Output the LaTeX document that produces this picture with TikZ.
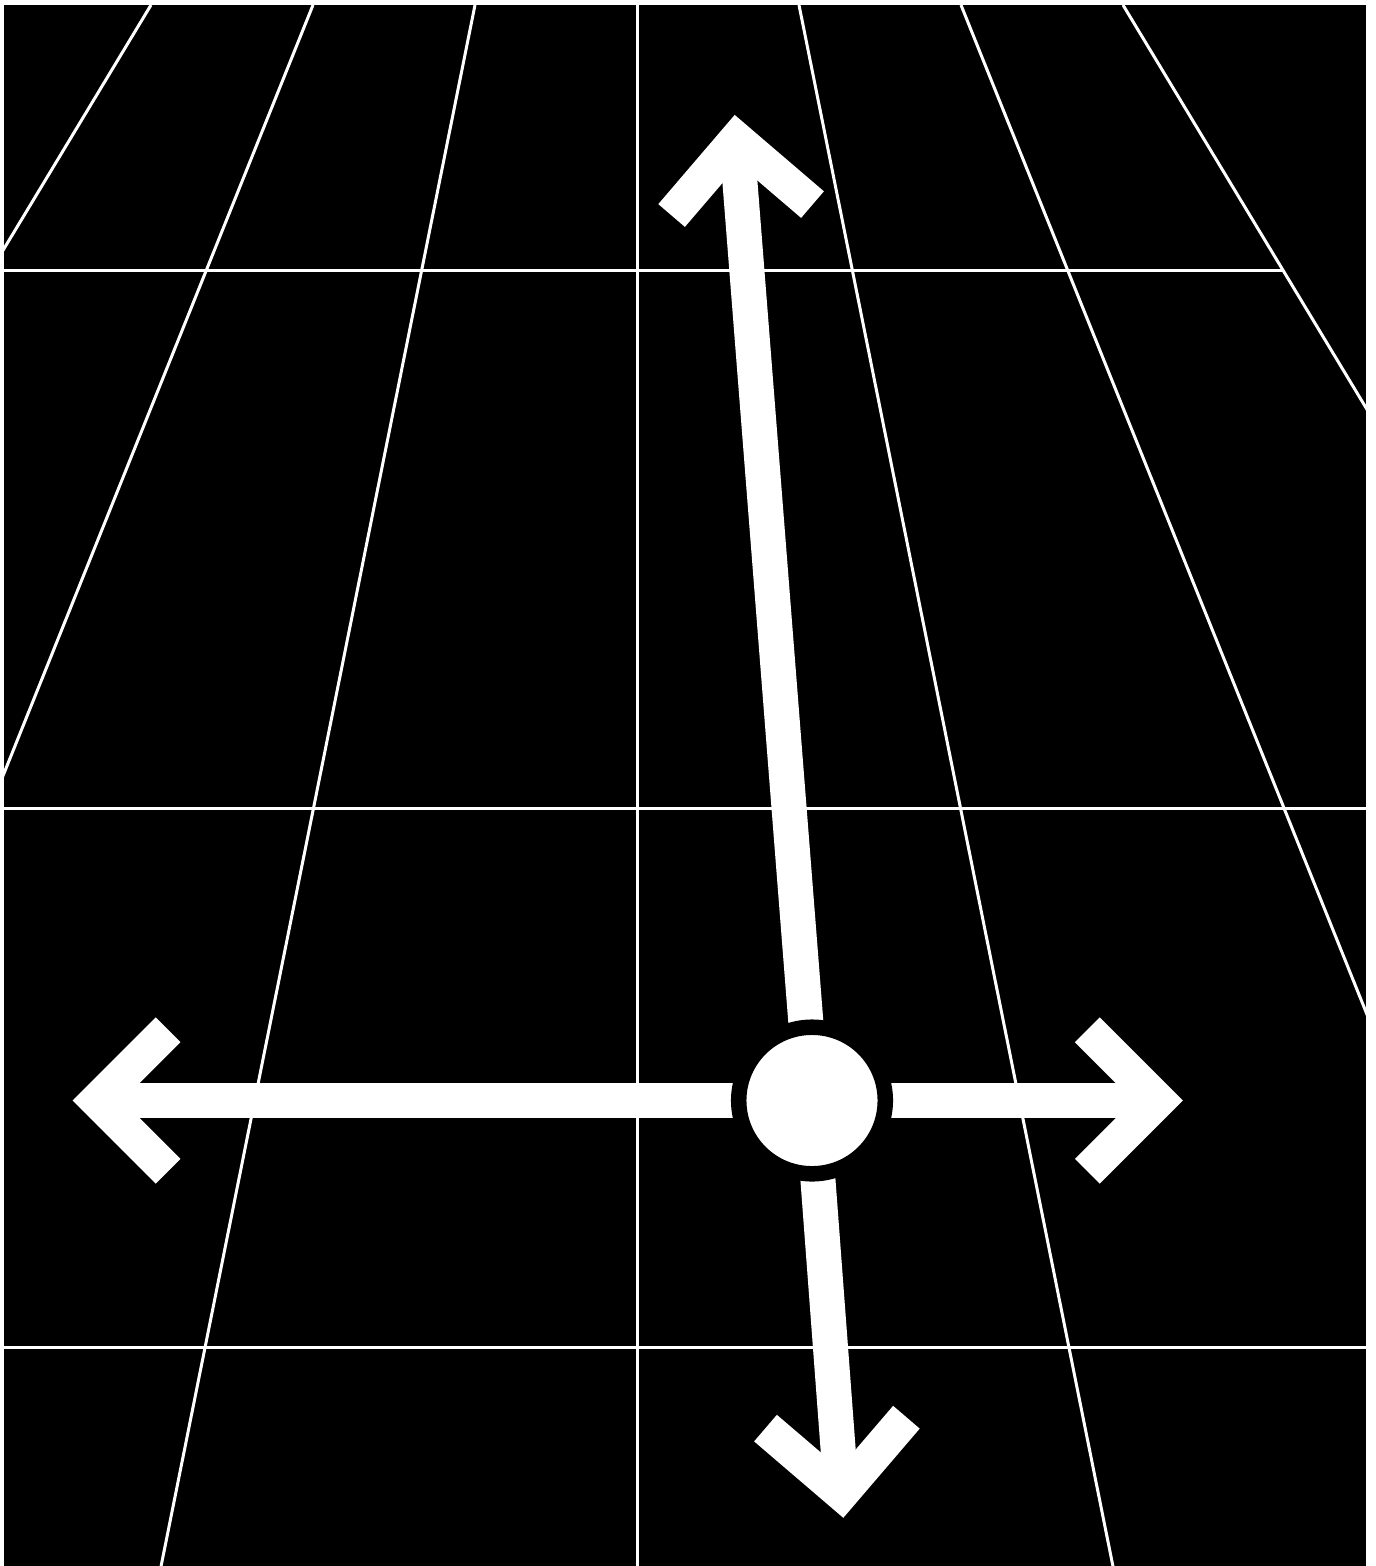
\documentclass[tikz,border=0pt]{standalone}
\pgfdeclarelayer{back}
\pgfsetlayers{back,main}
\begin{document}
\begin{tikzpicture}[
    x=0.01cm, y=-0.01cm,
    gridline/.style={white, line width=0.03cm},
    shaft/.style={white, line width=0.35cm, line join=miter, line cap=butt},
    hub/.style={circle, fill=white, draw=black, line width=0.155cm, minimum size=1.465cm, inner sep=0pt}
  ]
  \useasboundingbox (0,0) rectangle (1376,1566);
  \node[hub] (hub) at (812,1100.5) {};
  \coordinate (tipN) at (736.6,139.6);
  \coordinate (tipS) at (841.4,1493.1);
  \coordinate (tipW) at (97.4,1100.5);
  \coordinate (tipE) at (1158,1100.5);
  \begin{pgfonlayer}{back}
    \fill[black] (4,5) rectangle (1366,1566);
    \begin{scope}
      \clip (4,5) rectangle (1366,1566);
      \foreach \k in {-3,...,3}
        \draw[gridline] ({637+162*\k},5) -- ({637+475.9*\k},1566);
      \foreach \y in {270,808,1347}
        \draw[gridline] ({637-0.6033*(\y+800.5)},\y) -- ({637+0.6033*(\y+800.5)},\y);
    \end{scope}
    \draw[shaft] (hub.center) -- (tipN);
    \draw[shaft] (hub.center) -- (tipS);
    \draw[shaft] (hub.center) -- (tipW);
    \draw[shaft] (hub.center) -- (tipE);
    \draw[shaft] (812.5,204.6) -- (tipN) -- (671.6,215.5);
    \draw[shaft] (906.4,1417.2) -- (tipS) -- (765.5,1428.1);
    \draw[shaft] (168.1,1029.8) -- (tipW) -- (168.1,1171.2);
    \draw[shaft] (1087.3,1029.8) -- (tipE) -- (1087.3,1171.2);
  \end{pgfonlayer}
\end{tikzpicture}
\end{document}
